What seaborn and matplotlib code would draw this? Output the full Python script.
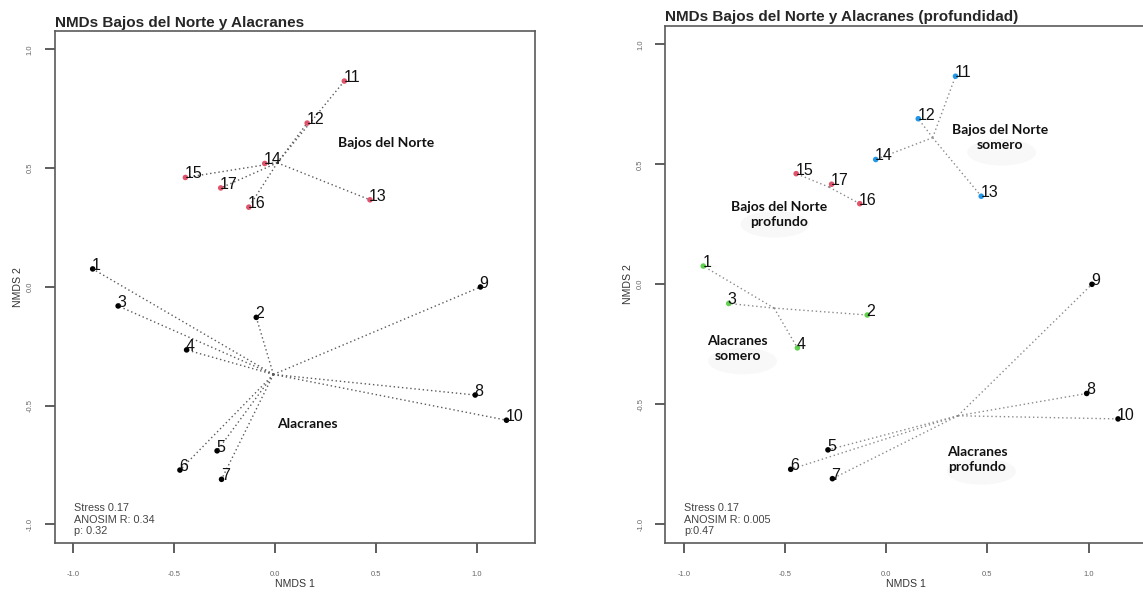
import matplotlib.pyplot as plt
import pandas as pd
import seaborn as sns
from matplotlib.patches import Ellipse

# NMDS scores (sites 1-17)
sites = [str(i) for i in range(1, 18)]
nmds1 = [-0.904, -0.094, -0.778, -0.439, -0.288, -0.472, -0.266, 0.990, 1.016, 1.145,
         0.342, 0.158, 0.469, -0.052, -0.445, -0.131, -0.270]
nmds2 = [0.076, -0.128, -0.080, -0.265, -0.690, -0.771, -0.810, -0.455, 0.000, -0.561,
         0.867, 0.690, 0.367, 0.520, 0.461, 0.336, 0.417]
zona = ["Alacranes"] * 10 + ["Bajos del Norte"] * 7
prof = (["Alacranes somero"] * 4 + ["Alacranes profundo"] * 6
        + ["Bajos del Norte somero"] * 4 + ["Bajos del Norte profundo"] * 3)

ticks = [-1.0, -0.5, 0.0, 0.5, 1.0]
tick_labels = ["-1.0", "-0.5", "0.0", "0.5", "1.0"]

stats_zona = "Stress 0.17\nANOSIM R: 0.34\np: 0.32"
stats_prof = "Stress 0.17\nANOSIM R: 0.005\np:0.47"

df = pd.DataFrame({"site": sites, "NMDS1": nmds1, "NMDS2": nmds2,
                   "zona": zona, "prof": prof})

sns.set_style("white")
plt.rcParams["font.family"] = ["Liberation Sans", "DejaVu Sans"]

pal_zona = {"Alacranes": "black", "Bajos del Norte": "#DF536B"}
pal_prof = {"Alacranes somero": "#61D04F", "Alacranes profundo": "black",
            "Bajos del Norte somero": "#2297E6", "Bajos del Norte profundo": "#DF536B"}

fig = plt.figure(figsize=(11.43, 5.94), dpi=100)
ax1 = fig.add_axes([0.0477, 0.0859, 0.4207, 0.862])
ax2 = fig.add_axes([0.5818, 0.0859, 0.4217, 0.871])


def spider(ax, group_col, color):
    for g, sub in df.groupby(group_col):
        cx, cy = sub.NMDS1.mean(), sub.NMDS2.mean()
        for x, y in zip(sub.NMDS1, sub.NMDS2):
            ax.plot([cx, x], [cy, y], ls=(0, (1, 2)), lw=1.0, color=color, zorder=1)


def base(ax, group_col, pal, title, stats, line_color):
    spider(ax, group_col, line_color)
    sns.scatterplot(data=df, x="NMDS1", y="NMDS2", hue=group_col, palette=pal,
                    s=16, edgecolor="none", legend=False, ax=ax, zorder=3)
    for s, x, y in zip(df.site, df.NMDS1, df.NMDS2):
        ax.annotate(s, (x, y), xytext=(-0.6, -0.7), textcoords="offset points",
                    ha="left", va="baseline", fontsize=11.5, color="#111111")
    ax.set_xlim(-1.093, 1.288)
    ax.set_ylim(-1.078, 1.078)
    ax.set_xticks(ticks)
    ax.set_xticklabels(tick_labels)
    ax.set_yticks(ticks)
    ax.set_yticklabels(tick_labels, rotation=90, va="center")
    ax.tick_params(axis="both", bottom=True, left=True, direction="out", length=7,
                   width=1.1, color="#333333", labelsize=5.5, labelcolor="#666666")
    ax.tick_params(axis="x", pad=13)
    ax.tick_params(axis="y", pad=8)
    ax.set_xlabel("NMDS 1", fontsize=7.6, color="#333333", labelpad=1)
    ax.set_ylabel("NMDS 2", fontsize=7.6, color="#333333", labelpad=3)
    for sp in ax.spines.values():
        sp.set_color("#5a5a5a")
        sp.set_linewidth(1.2)
    ax.set_title(title, loc="left", fontsize=11, fontweight="bold", pad=3)
    ax.text(0.04, 0.014, stats, transform=ax.transAxes, ha="left", va="bottom",
            fontsize=7.8, color="#444444", linespacing=1.15)


base(ax1, "zona", pal_zona, "NMDs Bajos del Norte y Alacranes", stats_zona, "#5a5a5a")
base(ax2, "prof", pal_prof, "NMDs Bajos del Norte y Alacranes (profundidad)",
     stats_prof, "#8a8a8a")

grp_font = dict(family=["Lato", "DejaVu Sans"], fontweight="bold", fontsize=10,
                color="#111111")
ax1.text(0.311, 0.606, "Bajos del Norte", ha="left", va="center", **grp_font)
ax1.text(0.009, -0.577, "Alacranes", ha="left", va="center", **grp_font)

# faint shadows behind the hand-placed labels
for cx, cy in [(0.57, 0.55), (-0.55, 0.25), (-0.71, -0.32), (0.47, -0.78)]:
    ax2.add_patch(Ellipse((cx, cy), 0.34, 0.11, facecolor="#f8f8f8",
                          edgecolor="none", zorder=0))

ax2.text(0.563, 0.61, "Bajos del Norte\nsomero", ha="center", va="center",
         linespacing=1.3, **grp_font)
ax2.text(-0.53, 0.29, "Bajos del Norte\nprofundo", ha="center", va="center",
         linespacing=1.3, **grp_font)
ax2.text(-0.733, -0.267, "Alacranes\nsomero", ha="center", va="center",
         linespacing=1.3, **grp_font)
ax2.text(0.449, -0.73, "Alacranes\nprofundo", ha="center", va="center",
         linespacing=1.3, **grp_font)

fig.savefig("out.png", dpi=100)
